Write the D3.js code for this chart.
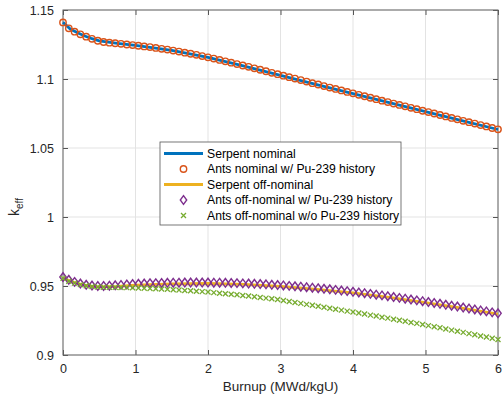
<!DOCTYPE html>
<html>
<head>
<meta charset="utf-8">
<script src="https://cdn.jsdelivr.net/npm/d3@7"></script>
<style>
  body { margin: 0; background: #fff; }
  text { font-family: "Liberation Sans", Arial, Helvetica, sans-serif; }
</style>
</head>
<body>
<svg id="chart" width="503" height="397"></svg>
<script>
// burnup points of the Ants markers (MWd/kgU)
const burnup = [0.00, 0.08, 0.16, 0.24, 0.32, 0.40, 0.48, 0.56, 0.64, 0.72,
  0.80, 0.88, 0.96, 1.04, 1.12, 1.20, 1.28, 1.36, 1.44, 1.52,
  1.60, 1.68, 1.76, 1.84, 1.92, 2.00, 2.08, 2.16, 2.24, 2.32,
  2.40, 2.48, 2.56, 2.64, 2.72, 2.80, 2.88, 2.96, 3.04, 3.12,
  3.20, 3.28, 3.36, 3.44, 3.52, 3.60, 3.68, 3.76, 3.84, 3.92,
  4.00, 4.08, 4.16, 4.24, 4.32, 4.40, 4.48, 4.56, 4.64, 4.72,
  4.80, 4.88, 4.96, 5.04, 5.12, 5.20, 5.28, 5.36, 5.44, 5.52,
  5.60, 5.68, 5.76, 5.84, 5.92, 6.00];

const antsNominal = [1.1410, 1.1367, 1.1343, 1.1324, 1.1307, 1.1291, 1.1277, 1.1268, 1.1263, 1.1259,
  1.1255, 1.1250, 1.1246, 1.1241, 1.1236, 1.1231, 1.1225, 1.1219, 1.1213, 1.1206,
  1.1199, 1.1191, 1.1183, 1.1175, 1.1166, 1.1157, 1.1148, 1.1138, 1.1128, 1.1118,
  1.1108, 1.1098, 1.1088, 1.1077, 1.1067, 1.1056, 1.1045, 1.1035, 1.1024, 1.1013,
  1.1003, 1.0992, 1.0981, 1.0970, 1.0960, 1.0949, 1.0938, 1.0928, 1.0917, 1.0906,
  1.0896, 1.0885, 1.0875, 1.0864, 1.0854, 1.0843, 1.0833, 1.0822, 1.0812, 1.0802,
  1.0791, 1.0781, 1.0770, 1.0760, 1.0750, 1.0739, 1.0729, 1.0718, 1.0708, 1.0697,
  1.0687, 1.0677, 1.0666, 1.0656, 1.0645, 1.0635];

const antsOffWith = [0.9565, 0.9545, 0.9530, 0.9518, 0.9509, 0.9503, 0.9500, 0.9500, 0.9502, 0.9505,
  0.9508, 0.9511, 0.9514, 0.9516, 0.9518, 0.9520, 0.9521, 0.9522, 0.9523, 0.9524,
  0.9524, 0.9525, 0.9525, 0.9525, 0.9525, 0.9525, 0.9524, 0.9524, 0.9523, 0.9522,
  0.9521, 0.9519, 0.9518, 0.9516, 0.9514, 0.9512, 0.9509, 0.9507, 0.9504, 0.9501,
  0.9498, 0.9495, 0.9491, 0.9488, 0.9484, 0.9480, 0.9476, 0.9472, 0.9467, 0.9463,
  0.9458, 0.9453, 0.9448, 0.9443, 0.9437, 0.9432, 0.9426, 0.9420, 0.9414, 0.9408,
  0.9402, 0.9396, 0.9390, 0.9384, 0.9377, 0.9371, 0.9364, 0.9357, 0.9351, 0.9344,
  0.9337, 0.9330, 0.9323, 0.9316, 0.9309, 0.9302];

const antsOffWithout = [0.9555, 0.9535, 0.9521, 0.9510, 0.9502, 0.9496, 0.9493, 0.9491, 0.9490, 0.9490,
  0.9489, 0.9488, 0.9487, 0.9486, 0.9484, 0.9482, 0.9480, 0.9478, 0.9476, 0.9473,
  0.9471, 0.9468, 0.9465, 0.9462, 0.9459, 0.9456, 0.9452, 0.9448, 0.9444, 0.9440,
  0.9436, 0.9431, 0.9427, 0.9422, 0.9417, 0.9412, 0.9407, 0.9402, 0.9395, 0.9388,
  0.9381, 0.9374, 0.9367, 0.9360, 0.9353, 0.9346, 0.9339, 0.9332, 0.9325, 0.9318,
  0.9311, 0.9304, 0.9297, 0.9289, 0.9282, 0.9274, 0.9267, 0.9259, 0.9252, 0.9244,
  0.9236, 0.9229, 0.9221, 0.9213, 0.9205, 0.9197, 0.9189, 0.9180, 0.9172, 0.9164,
  0.9155, 0.9147, 0.9138, 0.9130, 0.9121, 0.9112];

// Serpent reference curves
const serpentBurnup = [0, 0.1, 0.2, 0.3, 0.4, 0.5, 0.75, 1, 1.5, 2, 2.5, 3, 3.5, 4, 4.5, 5, 5.5, 6];
const serpentNominal = [1.1412, 1.1362, 1.1335, 1.1312, 1.1292, 1.1276, 1.1258, 1.1244, 1.1208, 1.1157,
  1.1093, 1.1027, 1.0960, 1.0894, 1.0829, 1.0764, 1.0699, 1.0634];
const serpentOff = [0.9560, 0.9535, 0.9518, 0.9506, 0.9498, 0.9494, 0.9498, 0.9507, 0.9516, 0.9518,
  0.9512, 0.9497, 0.9476, 0.9450, 0.9418, 0.9380, 0.9340, 0.9296];

const xTicks = [0, 1, 2, 3, 4, 5, 6];
const yTicks = [0.9, 0.95, 1, 1.05, 1.1, 1.15];
const yTickLabels = ["0.9", "0.95", "1", "1.05", "1.1", "1.15"];
const legendLabels = ["Serpent nominal", "Ants nominal w/ Pu-239 history", "Serpent off-nominal",
  "Ants off-nominal w/ Pu-239 history", "Ants off-nominal w/o Pu-239 history"];

const colors = {
  blue: "#0072BD", red: "#D95319", yellow: "#EDB120", purple: "#7E2F8E", green: "#77AC30"
};

let margin = {top: 10, right: 5, bottom: 42, left: 63};
let width = 503 - margin.left - margin.right;
let height = 397 - margin.top - margin.bottom;

let svg = d3.select("#chart");
svg.append("rect").attr("width", 503).attr("height", 397).attr("fill", "#fff");

let g = svg.append("g")
  .attr("transform", "translate(" + margin.left + "," + margin.top + ")");

let x = d3.scaleLinear().domain([0, 6]).range([0, width]);
let y = d3.scaleLinear().domain([0.9, 1.15]).range([height, 0]);

// grid
g.append("g")
  .selectAll("line")
  .data(xTicks)
  .enter()
  .append("line")
    .attr("x1", d => x(d)).attr("x2", d => x(d))
    .attr("y1", 0).attr("y2", height)
    .attr("stroke", "#e3e3e3").attr("stroke-width", 1);

g.append("g")
  .selectAll("line")
  .data(yTicks)
  .enter()
  .append("line")
    .attr("x1", 0).attr("x2", width)
    .attr("y1", d => y(d)).attr("y2", d => y(d))
    .attr("stroke", "#e3e3e3").attr("stroke-width", 1);

// axes, ticks pointing inward like matlab
function styleAxis(sel) {
  sel.select(".domain").remove();
  sel.selectAll(".tick line").attr("stroke", "#555");
  sel.selectAll(".tick text").attr("fill", "#262626").style("font-size", "12.5px");
}

g.append("g")
  .attr("transform", `translate(0,${height})`)
  .call(d3.axisBottom(x).tickValues(xTicks).tickSizeInner(-5).tickPadding(9).tickFormat(d3.format("d")))
  .call(styleAxis);

g.append("g")
  .call(d3.axisTop(x).tickValues(xTicks).tickSizeInner(-5).tickFormat(""))
  .call(styleAxis);

g.append("g")
  .call(d3.axisLeft(y).tickValues(yTicks).tickSizeInner(-5).tickPadding(9)
    .tickFormat((d, i) => yTickLabels[i]))
  .call(styleAxis);

g.append("g")
  .attr("transform", `translate(${width},0)`)
  .call(d3.axisRight(y).tickValues(yTicks).tickSizeInner(-5).tickFormat(""))
  .call(styleAxis);

g.append("rect")
  .attr("width", width).attr("height", height)
  .attr("fill", "none").attr("stroke", "#666").attr("stroke-width", 1);

// series
let line = d3.line().x(d => x(d[0])).y(d => y(d[1]));

let plot = g.append("g");

function diamondPath(cx, cy) {
  return `M${cx},${cy - 4.3}L${cx + 3.2},${cy}L${cx},${cy + 4.3}L${cx - 3.2},${cy}Z`;
}
function crossPath(cx, cy) {
  let s = 2.5;
  return `M${cx - s},${cy - s}L${cx + s},${cy + s}M${cx - s},${cy + s}L${cx + s},${cy - s}`;
}

plot.append("path")
  .datum(d3.zip(serpentBurnup, serpentNominal))
  .attr("d", line)
  .attr("fill", "none").attr("stroke", colors.blue).attr("stroke-width", 2.8);

plot.append("g")
  .selectAll("circle")
  .data(d3.zip(burnup, antsNominal))
  .enter()
  .append("circle")
    .attr("cx", d => x(d[0]))
    .attr("cy", d => y(d[1]))
    .attr("r", 3.2)
    .attr("fill", "none").attr("stroke", colors.red).attr("stroke-width", 1.4);

plot.append("path")
  .datum(d3.zip(serpentBurnup, serpentOff))
  .attr("d", line)
  .attr("fill", "none").attr("stroke", colors.yellow).attr("stroke-width", 2.8);

plot.append("g")
  .selectAll("path")
  .data(d3.zip(burnup, antsOffWith))
  .enter()
  .append("path")
    .attr("d", d => diamondPath(x(d[0]), y(d[1])))
    .attr("fill", "none").attr("stroke", colors.purple).attr("stroke-width", 1.4);

plot.append("g")
  .selectAll("path")
  .data(d3.zip(burnup, antsOffWithout))
  .enter()
  .append("path")
    .attr("d", d => crossPath(x(d[0]), y(d[1])))
    .attr("fill", "none").attr("stroke", colors.green).attr("stroke-width", 1.3);

// legend
let leg = svg.append("g").attr("transform", "translate(160,142)");
leg.append("rect")
  .attr("width", 241).attr("height", 83)
  .attr("fill", "#fff").attr("stroke", "#555").attr("stroke-width", 0.8);

let rowY = [11.5, 27, 42.5, 58, 73.5];
let types = ["line", "circle", "line", "diamond", "cross"];
let legColors = [colors.blue, colors.red, colors.yellow, colors.purple, colors.green];

legendLabels.forEach((label, i) => {
  let cy = rowY[i];
  if (types[i] === "line") {
    leg.append("line").attr("x1", 4).attr("x2", 43).attr("y1", cy).attr("y2", cy)
      .attr("stroke", legColors[i]).attr("stroke-width", 2.8);
  } else if (types[i] === "circle") {
    leg.append("circle").attr("cx", 23.5).attr("cy", cy).attr("r", 3.2)
      .attr("fill", "none").attr("stroke", legColors[i]).attr("stroke-width", 1.4);
  } else if (types[i] === "diamond") {
    leg.append("path").attr("d", diamondPath(23.5, cy))
      .attr("fill", "none").attr("stroke", legColors[i]).attr("stroke-width", 1.4);
  } else {
    leg.append("path").attr("d", crossPath(23.5, cy))
      .attr("fill", "none").attr("stroke", legColors[i]).attr("stroke-width", 1.3);
  }
  leg.append("text")
    .attr("x", 47).attr("y", cy + 4.3)
    .attr("fill", "#000")
    .style("font-size", "12.2px")
    .text(label);
});

// axis labels
svg.append("text")
  .attr("x", margin.left + width / 2).attr("y", 391)
  .attr("text-anchor", "middle")
  .attr("fill", "#262626")
  .style("font-size", "13.5px")
  .text("Burnup (MWd/kgU)");

let yl = svg.append("text")
  .attr("transform", "translate(19,207) rotate(-90)")
  .attr("text-anchor", "middle")
  .attr("fill", "#262626")
  .style("font-size", "14px");
yl.append("tspan").text("k");
yl.append("tspan").attr("dy", 4).style("font-size", "10px").text("eff");
</script>
</body>
</html>
